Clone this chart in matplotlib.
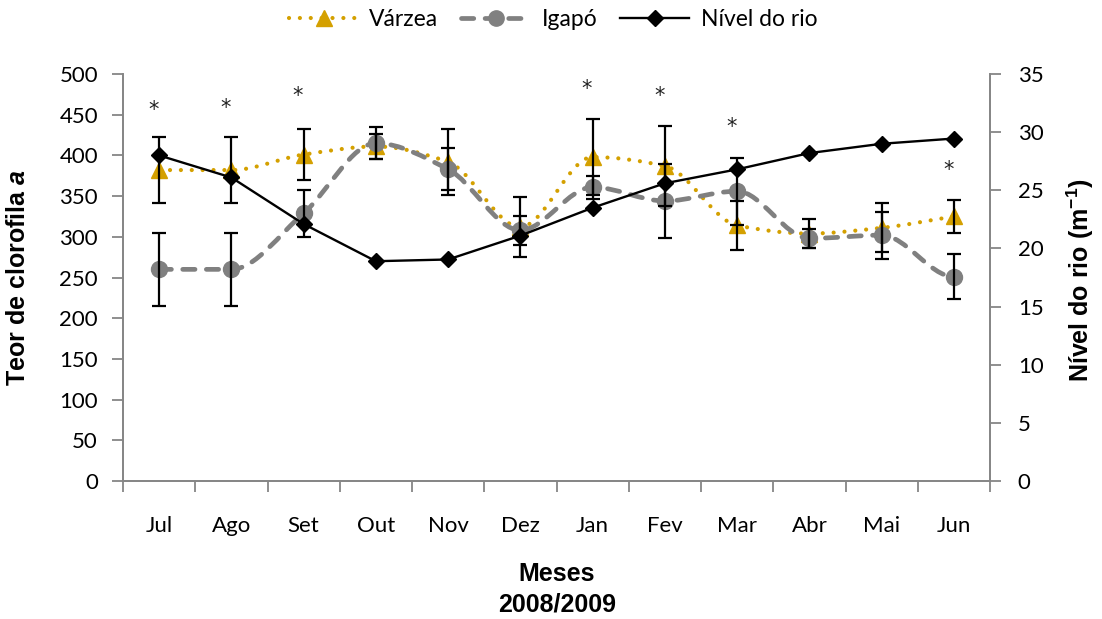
import numpy as np
import matplotlib
matplotlib.use('Agg')
import matplotlib.pyplot as plt
from matplotlib.path import Path
from matplotlib.patches import PathPatch
from matplotlib.lines import Line2D

plt.rcParams['mathtext.fontset'] = 'custom'
plt.rcParams['mathtext.rm'] = 'Liberation Sans'
plt.rcParams['mathtext.it'] = 'Liberation Sans:italic'
plt.rcParams['mathtext.bf'] = 'Liberation Sans:bold'
plt.rcParams['mathtext.bfit'] = 'Liberation Sans:bold:italic'

meses = ['Jul', 'Ago', 'Set', 'Out', 'Nov', 'Dez', 'Jan', 'Fev', 'Mar', 'Abr', 'Mai', 'Jun']
varzea = [382, 382, 401, 411, 392, 312, 398, 387, 314, 304, 311, 325]
varzea_err = [41, 41, 31, 15, 41, 37, 47, 49, 30, 18, 30, 20]
igapo = [260, 260, 329, 415, 383, 308, 361, 344, 356, 298, 302, 251]
igapo_err = [45, 45, 29, 20, 26, 18, 14, 45, 41, 12, 29, 28]
nivel = [28.0, 26.1, 22.1, 18.9, 19.05, 21.1, 23.5, 25.6, 26.8, 28.2, 29.0, 29.45]
asterisco_meses = ['Jul', 'Ago', 'Set', 'Jan', 'Fev', 'Mar', 'Jun']
asterisco_y = [456, 458, 473, 482, 473, 435, 382]

C_VARZEA = '#D4A000'
C_IGAPO = '#808080'
C_AXIS = '#868686'
TICK_FONT = 'Lato'
TITLE_FONT = 'Liberation Sans'
TS = 16


def smooth_path(x, y):
    """Shape-preserving cubic (Fritsch-Carlson tangents) drawn as Bezier segments."""
    x = np.asarray(x, float)
    y = np.asarray(y, float)
    n = len(x)
    h = np.diff(x)
    d = np.diff(y) / h
    m = np.zeros(n)
    for k in range(1, n - 1):
        if d[k - 1] * d[k] > 0:
            m[k] = 2.0 / (1.0 / d[k - 1] + 1.0 / d[k])
    m[0] = d[0] if d[0] * (d[1] if n > 2 else d[0]) > 0 else 0.0
    m[-1] = d[-1] if d[-1] * (d[-2] if n > 2 else d[-1]) > 0 else 0.0
    verts = [(x[0], y[0])]
    codes = [Path.MOVETO]
    for i in range(n - 1):
        c1 = (x[i] + h[i] / 3, y[i] + m[i] * h[i] / 3)
        c2 = (x[i + 1] - h[i] / 3, y[i + 1] - m[i + 1] * h[i] / 3)
        verts += [c1, c2, (x[i + 1], y[i + 1])]
        codes += [Path.CURVE4] * 3
    return Path(verts, codes)


fig = plt.figure(figsize=(11.02, 6.19), dpi=100)
ax = fig.add_axes([123 / 1102, 1 - 481 / 619, (990 - 123) / 1102, (481 - 74) / 619])
x = np.arange(len(meses))

vz_style = dict(linestyle=(0, (0.01, 2.6)), linewidth=3.0, dash_capstyle='round')
ig_style = dict(linestyle=(0, (2.6, 2.4)), linewidth=3.4, dash_capstyle='round')

p1 = PathPatch(smooth_path(x, varzea), fill=False, edgecolor=C_VARZEA, capstyle='round',
               linestyle=(0, (0.01, 2.6)), linewidth=3.0, zorder=2)
p2 = PathPatch(smooth_path(x, igapo), fill=False, edgecolor=C_IGAPO, capstyle='round',
               linestyle=(0, (2.6, 2.4)), linewidth=3.4, zorder=2)
ax.add_patch(p1)
ax.add_patch(p2)
ax.plot(x, varzea, linestyle='none', marker='^', markersize=11.5, color=C_VARZEA, zorder=3)
ax.plot(x, igapo, linestyle='none', marker='o', markersize=11.5, color=C_IGAPO, zorder=3)
ax.errorbar(x, varzea, yerr=varzea_err, fmt='none', ecolor='black', elinewidth=1.6,
            capsize=5, capthick=1.6, zorder=4)
ax.errorbar(x, igapo, yerr=igapo_err, fmt='none', ecolor='black', elinewidth=1.6,
            capsize=5, capthick=1.6, zorder=4)

for m, yv in zip(asterisco_meses, asterisco_y):
    ax.text(meses.index(m) - 0.08, yv, '*', ha='center', va='center', fontsize=15,
            family='DejaVu Sans', color='#222222')

ax.set_xlim(-0.5, 11.5)
ax.set_ylim(0, 500)
ax.set_yticks(np.arange(0, 501, 50))
ax.set_xticks(x)
ax.set_xticklabels(meses)
ax.set_xticks(np.arange(-0.5, 11.6, 1), minor=True)
ax.tick_params(axis='x', which='major', length=0, pad=25, labelsize=TS)
ax.tick_params(axis='x', which='minor', length=8, width=1.3, color=C_AXIS, direction='out')
ax.tick_params(axis='y', length=8, width=1.3, color=C_AXIS, direction='out', pad=10, labelsize=TS)
for lab in ax.get_xticklabels() + ax.get_yticklabels():
    lab.set_family(TICK_FONT)
for s in ['left', 'bottom', 'right']:
    ax.spines[s].set_color(C_AXIS)
    ax.spines[s].set_linewidth(1.3)
ax.spines['top'].set_visible(False)

ax2 = ax.twinx()
ax2.plot(x, nivel, color='black', linewidth=1.7, marker='D', markersize=8.5, zorder=5)
ax2.set_ylim(0, 35)
ax2.set_yticks(np.arange(0, 36, 5))
ax2.tick_params(axis='y', length=8, width=1.3, color=C_AXIS, direction='out', pad=12, labelsize=TS)
for lab in ax2.get_yticklabels():
    lab.set_family(TICK_FONT)
for s in ['left', 'bottom', 'right']:
    ax2.spines[s].set_color(C_AXIS)
    ax2.spines[s].set_linewidth(1.3)
ax2.spines['top'].set_visible(False)

fig.text(18 / 1102, 1 - 278 / 619, r'Teor de clorofila $\mathbfit{a}$', rotation=90,
         ha='center', va='center', fontsize=18, fontweight='bold', family=TITLE_FONT)
fig.text(1080 / 1102, 1 - 280 / 619, r'Nível do rio (m$^{\mathbf{-1}}$)', rotation=90,
         ha='center', va='center', fontsize=18, fontweight='bold', family=TITLE_FONT)
fig.text(557 / 1102, 1 - 574 / 619, 'Meses', ha='center', va='center', fontsize=18,
         fontweight='bold', family=TITLE_FONT)
fig.text(557 / 1102, 1 - 604 / 619, '2008/2009', ha='center', va='center', fontsize=18,
         fontweight='bold', family=TITLE_FONT)

handles = [
    Line2D([], [], color=C_VARZEA, marker='^', markersize=11, **vz_style),
    Line2D([], [], color=C_IGAPO, marker='o', markersize=11, **ig_style),
    Line2D([], [], color='black', linewidth=1.7, marker='D', markersize=8.5),
]
leg = fig.legend(handles, ['Várzea', 'Igapó', 'Nível do rio'], loc='center',
                 bbox_to_anchor=(0.502, 1 - 20 / 619), ncol=3, frameon=False,
                 prop={'family': TICK_FONT, 'size': 16.5}, handlelength=3.0,
                 handletextpad=0.5, columnspacing=1.0)

fig.savefig('out.png', dpi=100)
